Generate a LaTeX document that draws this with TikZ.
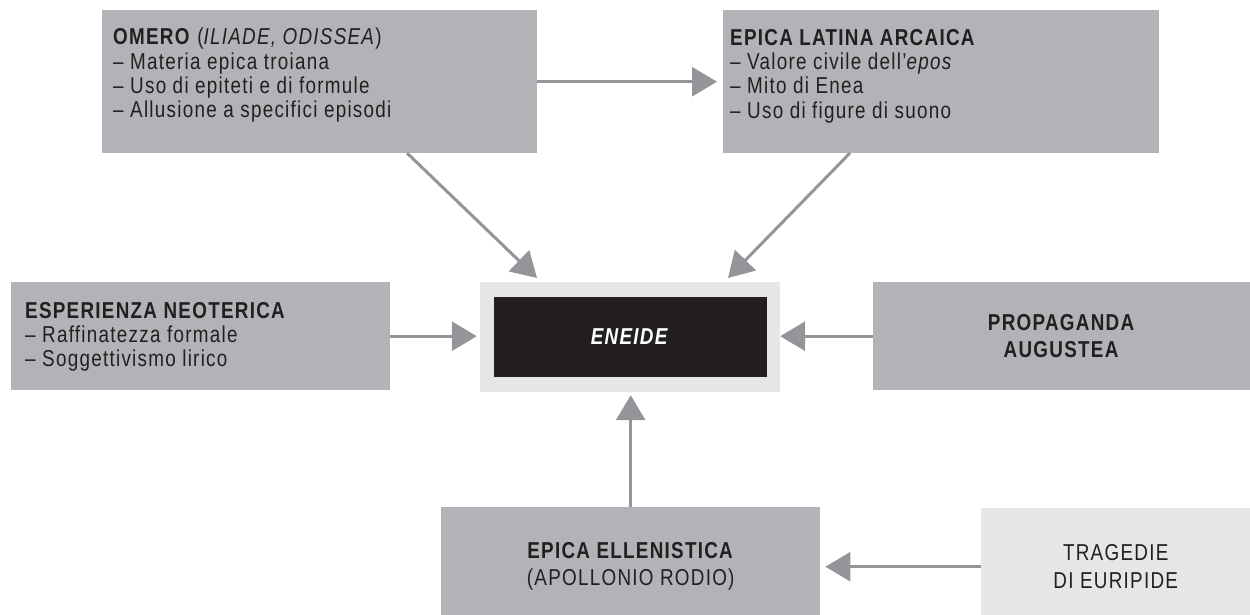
\documentclass[tikz,border=0pt]{standalone}
\usepackage{fontspec}
\setmainfont{Liberation Sans}[FakeStretch=0.82,LetterSpace=5.5]
\usepackage{tikz}
\usetikzlibrary{arrows.meta,positioning}
\definecolor{boxgrey}{RGB}{178,179,182}
\definecolor{palegrey}{RGB}{229,230,232}
\definecolor{inkblack}{RGB}{35,31,32}
\definecolor{arrowgrey}{RGB}{147,149,152}
\newcommand{\boxfont}{\fontsize{23}{24.3}\selectfont}
\newcommand{\midfont}{\fontsize{23}{27.5}\selectfont}

\begin{document}
\begin{tikzpicture}[x=1pt,y=-1pt,
    box/.style={rectangle,fill=boxgrey,inner sep=0pt,anchor=north west,text=inkblack,align=center,font=\midfont},
    palebox/.style={box,fill=palegrey},
    boxtext/.style={align=left,anchor=north west,inner sep=0pt,text=inkblack,font=\boxfont},
    link/.style={draw=arrowgrey,line width=3pt,-{Triangle[length=25pt,width=29pt]}}]
    \useasboundingbox (0,0) rectangle (1250,614);

    % sources
    \node[box,minimum width=435pt,minimum height=143pt] at (102,10) (omero) {};
    \node[box,minimum width=436pt,minimum height=143pt] at (723,10) (arcaica) {};
    \node[box,minimum width=379pt,minimum height=108pt] at (11,282) (neoterica) {};
    \node[box,minimum width=377pt,minimum height=108pt] at (873,282) (augustea) {\textbf{PROPAGANDA}\\\textbf{AUGUSTEA}};
    \node[box,minimum width=379pt,minimum height=118pt] at (441,507) (ellenistica) {\textbf{EPICA ELLENISTICA}\\(APOLLONIO RODIO)};
    \node[palebox,minimum width=269pt,minimum height=117pt] at (981,508) (euripide) {TRAGEDIE\\DI EURIPIDE};

    % box contents
    \node[boxtext] at ([shift={(11,18)}]omero.north west) (omero-text) {\textbf{OMERO} (\textit{ILIADE, ODISSEA})\\-- Materia epica troiana\\-- Uso di epiteti e di formule\\-- Allusione a specifici episodi};
    \node[boxtext] at ([shift={(7,19)}]arcaica.north west) (arcaica-text) {\textbf{EPICA LATINA ARCAICA}\\-- Valore civile dell'\textit{epos}\\-- Mito di Enea\\-- Uso di figure di suono};
    \node[boxtext] at ([shift={(14,20)}]neoterica.north west) (neoterica-text) {\textbf{ESPERIENZA NEOTERICA}\\-- Raffinatezza formale\\-- Soggettivismo lirico};

    % centre
    \node[palebox,anchor=center,minimum width=300pt,minimum height=110pt] at (630,337) (eneide-frame) {};
    \node[rectangle,fill=inkblack,inner sep=0pt,minimum width=273pt,minimum height=80pt,text=white,font=\midfont] at (eneide-frame.center) (eneide) {\textbf{\textit{ENEIDE}}};

    % arrows
    \coordinate (omero-foot) at (407,153);
    \coordinate (arcaica-foot) at (850,153);
    \coordinate (tip-left) at (537,278);
    \coordinate (tip-right) at (728,278);
    \draw[link,shorten >=6pt] (omero.east) -- (arcaica.west);
    \draw[link] (omero-foot) -- (tip-left);
    \draw[link] (arcaica-foot) -- (tip-right);
    \draw[link,shorten >=3pt] (neoterica.east) -- (eneide-frame.west |- neoterica.east);
    \draw[link] (augustea.west) -- (eneide-frame.east |- augustea.west);
    \draw[link,shorten >=3pt] (ellenistica.north) -- (eneide-frame.south -| ellenistica.north);
    \draw[link,shorten >=5pt] (euripide.west) -- (ellenistica.east |- euripide.west);
\end{tikzpicture}
\end{document}
